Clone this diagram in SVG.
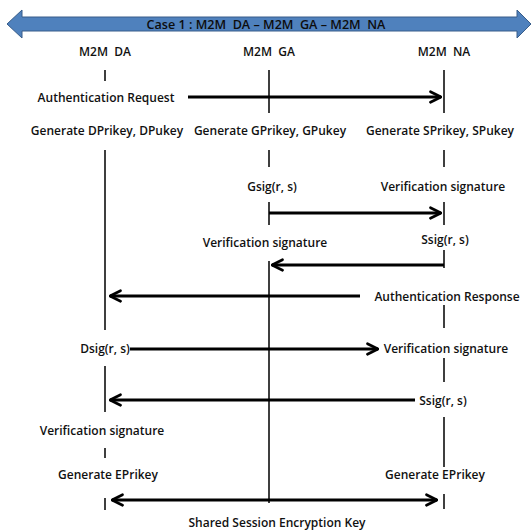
<svg xmlns="http://www.w3.org/2000/svg" width="532" height="530" viewBox="0 0 532 530">
  <style>
    text { font-family: "Open Sans", "Noto Sans", sans-serif; font-size: 12px; font-weight: 600; fill: #111; white-space: pre; }
    .mid { text-anchor: middle; }
    .title { font-size: 12.6px; fill: #0d0d0d; }
    .life { stroke: #000; stroke-width: 1.5; fill: none; }
    .msg { stroke: #000; stroke-width: 3; fill: none; }
  </style>
  <defs>
    <marker id="head" viewBox="0 0 10 10" refX="9" refY="5" markerWidth="4.4" markerHeight="4.4" markerUnits="strokeWidth" orient="auto-start-reverse">
      <path d="M1,1 L9,5 L1,9" fill="none" stroke="#000" stroke-width="2" stroke-linecap="round" stroke-linejoin="round"/>
    </marker>
  </defs>

  <!-- banner -->
  <g id="banner">
    <path d="M7,24 L22,10 L22,17 L517,17 L517,10 L531,24 L517,38 L517,31 L22,31 L22,38 Z" fill="#4F81BD" stroke="#385D8A" stroke-width="1"/>
    <text class="mid title" x="266" y="29">Case 1 : M2M  DA – M2M  GA – M2M  NA</text>
  </g>

  <!-- lifeline DA -->
  <g id="da">
    <text class="mid" x="105" y="56">M2M  DA</text>
    <path class="life" d="M105,70 V81 M105,150 V330 M105,366 V412 M105,448 V458 M105,498 V510"/>
    <text class="mid" x="107" y="135">Generate DPrikey, DPukey</text>
    <text class="mid" x="102" y="435">Verification signature</text>
    <text class="mid" x="108" y="479">Generate EPrikey</text>
  </g>

  <!-- lifeline GA -->
  <g id="ga">
    <text class="mid" x="269" y="56">M2M  GA</text>
    <path class="life" d="M269,70 V113 M269,150 V167 M269,202 V225 M269,261 V503"/>
    <text class="mid" x="270" y="135">Generate GPrikey, GPukey</text>
    <text class="mid" x="272" y="191">Gsig(r, s)</text>
    <text class="mid" x="265" y="247">Verification signature</text>
  </g>

  <!-- lifeline NA -->
  <g id="na">
    <text class="mid" x="444" y="56">M2M  NA</text>
    <path class="life" d="M444,70 V113 M444,150 V167 M444,202 V225 M444,250 V268 M444,305 V328 M444,358 V382 M444,417 V467 M444,494 V509"/>
    <text class="mid" x="440" y="135">Generate SPrikey, SPukey</text>
    <text class="mid" x="443" y="191">Verification signature</text>
    <text class="mid" x="445" y="244">Ssig(r, s)</text>
    <text class="mid" x="447" y="301">Authentication Response</text>
    <text class="mid" x="446" y="353">Verification signature</text>
    <text class="mid" x="443" y="405">Ssig(r, s)</text>
    <text class="mid" x="435" y="479">Generate EPrikey</text>
  </g>

  <!-- messages -->
  <g id="connectors">
    <text class="mid" x="106" y="102">Authentication Request</text>
    <path class="msg" d="M188,97 H441" marker-end="url(#head)"/>
    <path class="msg" d="M269,213 H441" marker-end="url(#head)"/>
    <path class="msg" d="M444,265 H272" marker-end="url(#head)"/>
    <path class="msg" d="M360,296 H110" marker-end="url(#head)"/>
    <text class="mid" x="105" y="353">Dsig(r, s)</text>
    <path class="msg" d="M130,349 H378" marker-end="url(#head)"/>
    <path class="msg" d="M415,400 H110" marker-end="url(#head)"/>
    <path class="msg" d="M112,500 H437" marker-start="url(#head)" marker-end="url(#head)"/>
    <text class="mid" x="277" y="527">Shared Session Encryption Key</text>
  </g>
</svg>
